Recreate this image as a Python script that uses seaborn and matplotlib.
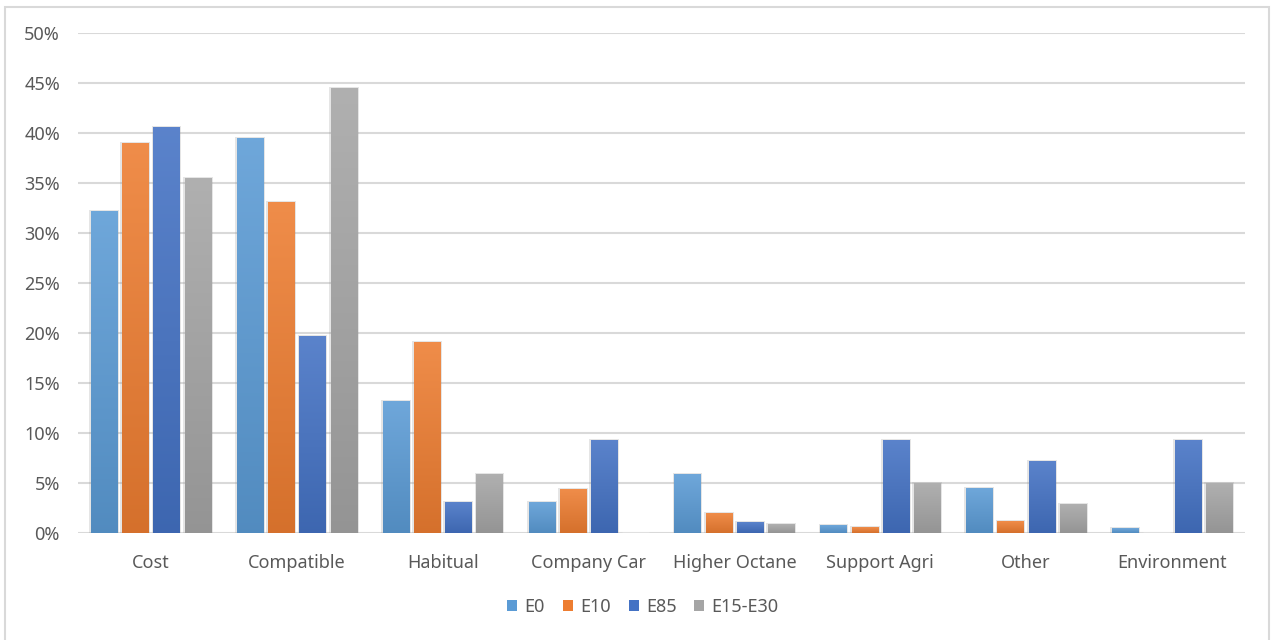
import numpy as np
import pandas as pd
import matplotlib
matplotlib.use("Agg")
import matplotlib.pyplot as plt
from matplotlib.patches import Rectangle
from matplotlib.colors import to_rgb
import seaborn as sns

# Reasons for choosing a fuel, share of respondents by fuel type
categories = ["Cost", "Compatible", "Habitual", "Company Car",
              "Higher Octane", "Support Agri", "Other", "Environment"]
fuels = ["E0", "E10", "E85", "E15-E30"]
e0 = [32.2, 39.5, 13.2, 3.1, 5.9, 0.8, 4.5, 0.5]
e10 = [39.0, 33.1, 19.1, 4.4, 2.0, 0.6, 1.2, 0.0]
e85 = [40.6, 19.7, 3.1, 9.3, 1.1, 9.3, 7.2, 9.3]
e15_e30 = [35.5, 44.5, 5.9, 0.0, 0.9, 5.0, 2.9, 5.0]
y_ticks = [0, 5, 10, 15, 20, 25, 30, 35, 40, 45, 50]

palette = {"E0": "#5B9BD5", "E10": "#ED7D31", "E85": "#4472C4", "E15-E30": "#A5A5A5"}

df = pd.DataFrame({
    "Reason": categories * 4,
    "Fuel": [f for f in fuels for _ in categories],
    "Share": e0 + e10 + e85 + e15_e30,
})

sns.set_theme(style="white")
plt.rcParams["font.family"] = ["Noto Sans", "DejaVu Sans"]

W, H = 1274, 640
fig = plt.figure(figsize=(W / 100, H / 100), dpi=100)
ax = fig.add_axes([78 / W, 1 - 533 / H, (1245 - 78) / W, 500 / H])

sns.barplot(data=df, x="Reason", y="Share", hue="Fuel", palette=palette,
            order=categories, hue_order=fuels, width=0.857, gap=0.16,
            saturation=1, ax=ax, legend=False, zorder=3)

ax.set_ylim(0, 50)
ax.set_xlim(-0.5, len(categories) - 0.5)
ax.set_yticks(y_ticks)
ax.set_yticklabels([f"{t}%" for t in y_ticks])
ax.set_xlabel("")
ax.set_ylabel("")
ax.yaxis.grid(True, color="#D9D9D9", linewidth=1.5, zorder=0)
ax.set_axisbelow(True)
for side in ["top", "right", "left", "bottom"]:
    ax.spines[side].set_visible(False)
ax.tick_params(axis="both", length=0, labelsize=13, labelcolor="#595959")
ax.tick_params(axis="y", pad=13)
ax.tick_params(axis="x", pad=15)


def shade(rgb, f):
    rgb = np.array(rgb)
    if f >= 0:
        return rgb + (1 - rgb) * f
    return rgb * (1 + f)


# Vertical gradient fill and soft shadow for each bar
bars = [p for p in ax.patches if isinstance(p, Rectangle) and p.get_height() > 0]
for p in bars:
    base = to_rgb(p.get_facecolor())
    x0, y0 = p.get_x(), p.get_y()
    w, h = p.get_width(), p.get_height()
    top = shade(base, 0.12)
    bot = shade(base, -0.10)
    t = np.linspace(0, 1, 64)[:, None]
    grad = (top[None, :] * (1 - t) + bot[None, :] * t)[:, None, :]
    im = ax.imshow(grad, extent=[x0, x0 + w, y0, y0 + h], origin="upper",
                   aspect="auto", zorder=3.5, interpolation="bilinear")
    im.set_clip_path(p)
    p.set_facecolor("none")
    p.set_edgecolor("none")
    ax.add_patch(Rectangle((x0 - 0.012, y0), w + 0.024, h + 0.1,
                           facecolor="#8c8c8c", edgecolor="none",
                           alpha=0.22, zorder=2.8))
ax.set_xlim(-0.5, len(categories) - 0.5)
ax.set_ylim(0, 50)

# Legend
handles = [Rectangle((0, 0), 1, 1, facecolor=palette[f], edgecolor="none") for f in fuels]
fig.legend(handles, fuels, loc="center", bbox_to_anchor=(0.5 + 6 / W, 1 - 607 / H),
           ncol=4, frameon=False, fontsize=13, handlelength=0.55, handleheight=0.55,
           handletextpad=0.4, columnspacing=1.0, labelcolor="#595959")

# Chart area border
fig.add_artist(Rectangle((5 / W, -0.01), (1269 - 5) / W, 1 - 7 / H + 0.01,
                         transform=fig.transFigure, facecolor="none",
                         edgecolor="#D9D9D9", linewidth=1.5))

fig.savefig("out.png", dpi=100)
